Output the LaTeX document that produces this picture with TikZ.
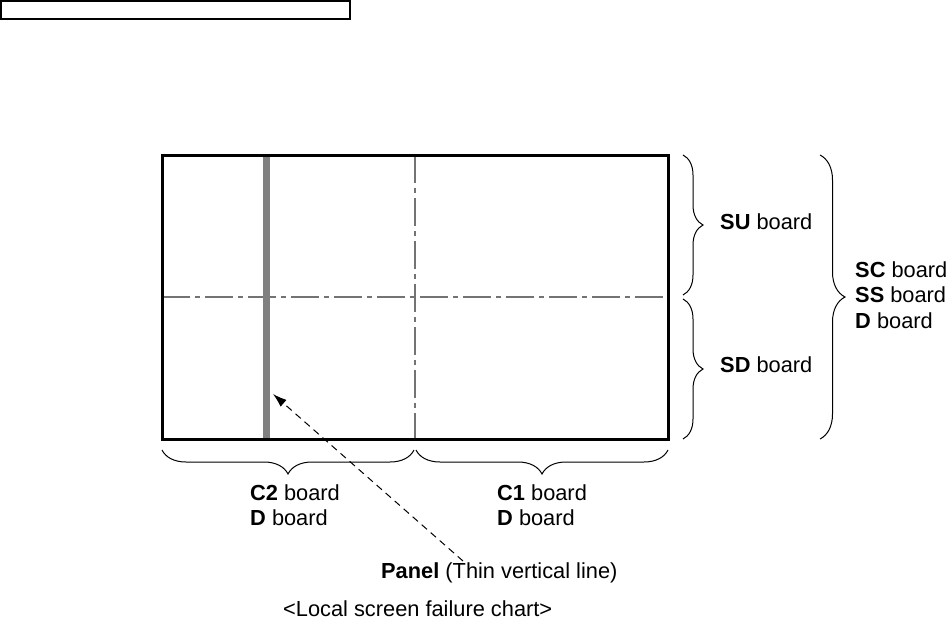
\documentclass[tikz,border=0pt]{standalone}
\usepackage{fontspec}
\setmainfont{Liberation Sans}
\usetikzlibrary{positioning,arrows.meta,decorations.pathreplacing}

\begin{document}
\begin{tikzpicture}[
    x=1pt,y=-1pt,
    lbl/.style={inner sep=0pt,align=left,anchor=west,font=\fontsize{21.8}{25.5}\selectfont},
    frame/.style={draw,line width=3pt},
    divide/.style={draw=black!55,line width=1.2pt,dash pattern=on 28pt off 5pt on 5pt off 5pt},
    brc/.style={decorate,decoration={brace,amplitude=#1},line width=1pt},
    arr/.style={-{Latex[length=14pt,width=9pt]},line width=1pt,dash pattern=on 7pt off 5pt},
  ]
    \useasboundingbox (0,0) rectangle (947,624);
    % corners of the screen
    \coordinate (TL) at (162,155);
    \coordinate (BR) at (668,439);
    \coordinate (MT) at (415,155);
    \coordinate (MB) at (415,439);
    \coordinate (ML) at (162,297);
    \coordinate (MR) at (668,297);
    \draw[line width=1.5pt] (1,1) rectangle (350,19);
    % dividers
    \draw[divide] (MT) -- (MB);
    \draw[divide] (ML) -- (MR);
    \draw[draw=black!50,line width=7pt] (266,155) -- (266,439);
    \draw[frame] (TL) rectangle (BR);
    % braces
    \draw[brc=20pt] (683,155) -- (683,295);
    \draw[brc=20pt] (683,299) -- (683,439);
    \draw[brc=25pt] (820,155) -- (820,439);
    \draw[brc=24pt] (414,450) -- (162,450);
    \draw[brc=24pt] (668,450) -- (416,450);
    % labels
    \node[lbl] (SU) at (720,222) {\textbf{SU} board};
    \node[lbl] (SD) at (720,365) {\textbf{SD} board};
    \node[lbl] (SC) at (855,295) {\textbf{SC} board\\\textbf{SS} board\\\textbf{D} board};
    \node[lbl] (C2) at (250,505) {\textbf{C2} board\\\textbf{D} board};
    \node[lbl] (C1) at (497,505) {\textbf{C1} board\\\textbf{D} board};
    \node[lbl] (panel) at (381,573) {\textbf{Panel} (Thin vertical line)};
    \node[lbl] (title) at (283,609) {<Local screen failure chart>};
    \coordinate (tail) at (463,561);
    \coordinate (tip) at (273,394);
    \draw[arr] (tail) -- (tip);
\end{tikzpicture}
\end{document}
